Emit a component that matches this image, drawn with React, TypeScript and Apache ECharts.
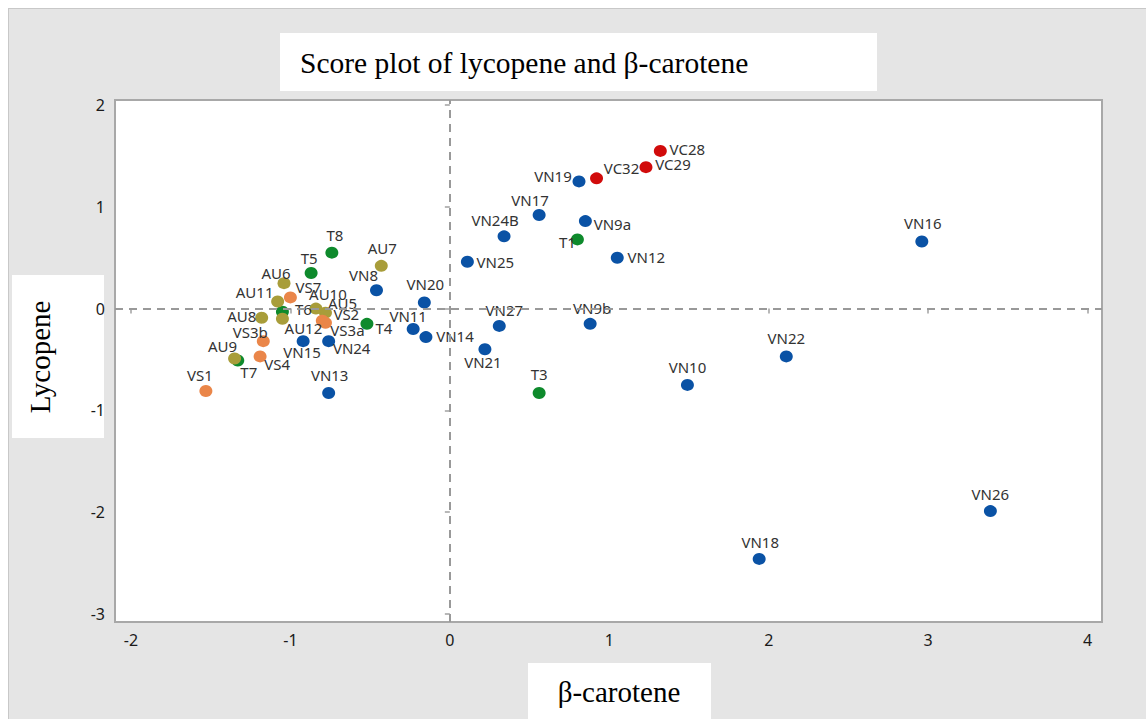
import React, { useEffect, useRef } from "react";
import * as echarts from "echarts";

// [sample, beta-carotene score, lycopene score]
const VN: [string, number, number][] = [
  ["VN19", 0.81, 1.25], ["VN17", 0.56, 0.92], ["VN9a", 0.85, 0.86], ["VN24B", 0.34, 0.71],
  ["VN12", 1.05, 0.5], ["VN25", 0.11, 0.46], ["VN16", 2.96, 0.66], ["VN20", -0.16, 0.06],
  ["VN8", -0.46, 0.18], ["VN11", -0.23, -0.2], ["VN14", -0.15, -0.28], ["VN27", 0.31, -0.17],
  ["VN21", 0.22, -0.4], ["VN9b", 0.88, -0.15], ["VN22", 2.11, -0.47], ["VN10", 1.49, -0.75],
  ["VN26", 3.39, -1.99], ["VN18", 1.94, -2.46], ["VN15", -0.92, -0.32], ["VN24", -0.76, -0.32],
  ["VN13", -0.76, -0.83],
];
const VC: [string, number, number][] = [
  ["VC28", 1.32, 1.55], ["VC29", 1.23, 1.39], ["VC32", 0.92, 1.28],
];
const T: [string, number, number][] = [
  ["T1", 0.8, 0.68], ["T3", 0.56, -0.83], ["T4", -0.52, -0.15], ["T5", -0.87, 0.35],
  ["T6", -1.05, -0.03], ["T7", -1.33, -0.51], ["T8", -0.74, 0.55],
];
const AU: [string, number, number][] = [
  ["AU5", -0.78, -0.04], ["AU6", -1.04, 0.25], ["AU7", -0.43, 0.42], ["AU8", -1.18, -0.09],
  ["AU9", -1.35, -0.49], ["AU10", -0.84, 0.0], ["AU11", -1.08, 0.07], ["AU12", -1.05, -0.1],
];
const VS: [string, number, number][] = [
  ["VS1", -1.53, -0.81], ["VS2", -0.8, -0.12], ["VS3a", -0.78, -0.14], ["VS3b", -1.17, -0.32],
  ["VS4", -1.19, -0.47], ["VS7", -1.0, 0.11],
];
const X_TICKS = [-2, -1, 0, 1, 2, 3, 4];
const Y_TICKS = [-3, -2, -1, 0, 1, 2];

// label placement (label centre relative to the point, px)
const LABEL_OFFSET: Record<string, [number, number]> = {
  VC28: [27, -2], VC29: [27, -3], VC32: [25, -10], VN19: [-26, -5], VN17: [-9, -15],
  VN24B: [-9, -16], VN9a: [27, 3], T1: [-10, 3], VN12: [29, -1], VN25: [28, 0],
  VN20: [1, -18], VN11: [-5, -13], VN14: [29, -1], VN27: [5, -16], VN21: [-2, 13],
  VN9b: [2, -16], T3: [0, -19], VN16: [1, -18], VN22: [0, -18], VN10: [0, -18],
  VN26: [0, -17], VN18: [1, -17], T5: [-2, -15], T8: [3, -18], AU7: [1, -18],
  VN8: [-13, -15], AU6: [-8, -10], VS7: [18, -10], AU11: [-23, -9], AU10: [12, -15],
  T6: [21, -3], AU12: [21, 9], AU5: [17, -10], VS2: [24, -7], VS3a: [22, 7],
  T4: [17, 4], AU8: [-20, -2], VS3b: [-13, -9], VN15: [-1, 11], VN24: [23, 7],
  AU9: [-12, -12], T7: [11, 12], VS4: [17, 8], VS1: [-6, -16], VN13: [1, -18],
};

const SANS = "'Noto Sans', 'Open Sans', sans-serif";
const SERIF = "'Liberation Serif', 'Times New Roman', serif";

function makeSeries(rows: [string, number, number][], color: string, withLines = false): any {
  const s: any = {
    type: "scatter",
    symbol: "circle",
    symbolSize: [13, 12],
    itemStyle: { color, opacity: 1 },
    label: {
      show: true,
      position: "inside",
      formatter: "{b}",
      color: "#333",
      fontSize: 15,
      fontFamily: SANS,
    },
    data: rows.map(([n, x, y]) => ({
      name: n,
      value: [x, y],
      label: { offset: LABEL_OFFSET[n] || [0, -18] },
    })),
  };
  if (withLines) {
    s.markLine = {
      silent: true,
      symbol: "none",
      label: { show: false },
      lineStyle: { color: "#999", type: [8, 6], width: 2 },
      data: [{ xAxis: 0 }, { yAxis: 0 }],
    };
  }
  return s;
}

export default function App() {
  const ref = useRef<HTMLDivElement>(null);
  useEffect(() => {
    if (!ref.current) return;
    const chart = echarts.init(ref.current, undefined, { renderer: "svg" });
    const axisCommon = {
      axisLine: { show: false },
      splitLine: { show: false },
      axisTick: { show: true, length: 5, lineStyle: { color: "#a0a0a0", width: 1.5 } },
      axisLabel: { color: "#1a1a1a", fontSize: 16, fontFamily: SANS },
    };
    chart.setOption({
      animation: false,
      backgroundColor: "#e5e5e5",
      grid: {
        left: 107,
        top: 92,
        right: 44,
        bottom: 97,
        show: true,
        backgroundColor: "#ffffff",
        borderColor: "#a8a8a8",
        borderWidth: 2,
      },
      xAxis: {
        type: "value",
        min: -2.1,
        max: 4.09,
        ...axisCommon,
        axisTick: { ...axisCommon.axisTick, customValues: X_TICKS },
        axisLabel: { ...axisCommon.axisLabel, margin: 10, customValues: X_TICKS },
      },
      yAxis: {
        type: "value",
        min: -3.08,
        max: 2.05,
        ...axisCommon,
        axisTick: { ...axisCommon.axisTick, customValues: Y_TICKS },
        axisLabel: { ...axisCommon.axisLabel, margin: 10, customValues: Y_TICKS },
      },
      graphic: [
        { type: "line", shape: { x1: 0, y1: 0.5, x2: 1138, y2: 0.5 }, style: { stroke: "#c8c8c8", lineWidth: 1 } },
        { type: "line", shape: { x1: 0.5, y1: 0, x2: 0.5, y2: 711 }, style: { stroke: "#c8c8c8", lineWidth: 1 } },
        { type: "rect", shape: { x: 272, y: 25, width: 597, height: 58 }, style: { fill: "#ffffff" } },
        {
          type: "text",
          x: 292,
          y: 55,
          style: {
            text: "Score plot of lycopene and β-carotene",
            font: `29.5px ${SERIF}`,
            fill: "#000",
            verticalAlign: "middle",
          },
        },
        { type: "rect", shape: { x: 4, y: 267, width: 92, height: 163 }, style: { fill: "#ffffff" } },
        {
          type: "text",
          x: 32,
          y: 349,
          rotation: Math.PI / 2,
          style: {
            text: "Lycopene",
            font: `29px ${SERIF}`,
            fill: "#000",
            align: "center",
            verticalAlign: "middle",
          },
        },
        { type: "rect", shape: { x: 520, y: 655, width: 183, height: 56 }, style: { fill: "#ffffff" } },
        {
          type: "text",
          x: 611,
          y: 684,
          style: {
            text: "β-carotene",
            font: `29px ${SERIF}`,
            fill: "#000",
            align: "center",
            verticalAlign: "middle",
          },
        },
      ],
      series: [
        makeSeries(VN, "#0a52a5", true),
        makeSeries(VC, "#d10b0b"),
        makeSeries(T, "#0e8a2c"),
        makeSeries(AU, "#a89d3a"),
        makeSeries(VS, "#ea8649"),
      ],
    });
    return () => chart.dispose();
  }, []);
  return (
    <div
      ref={ref}
      style={{ position: "fixed", left: 8, top: 8, width: 1138, height: 711 }}
    />
  );
}
